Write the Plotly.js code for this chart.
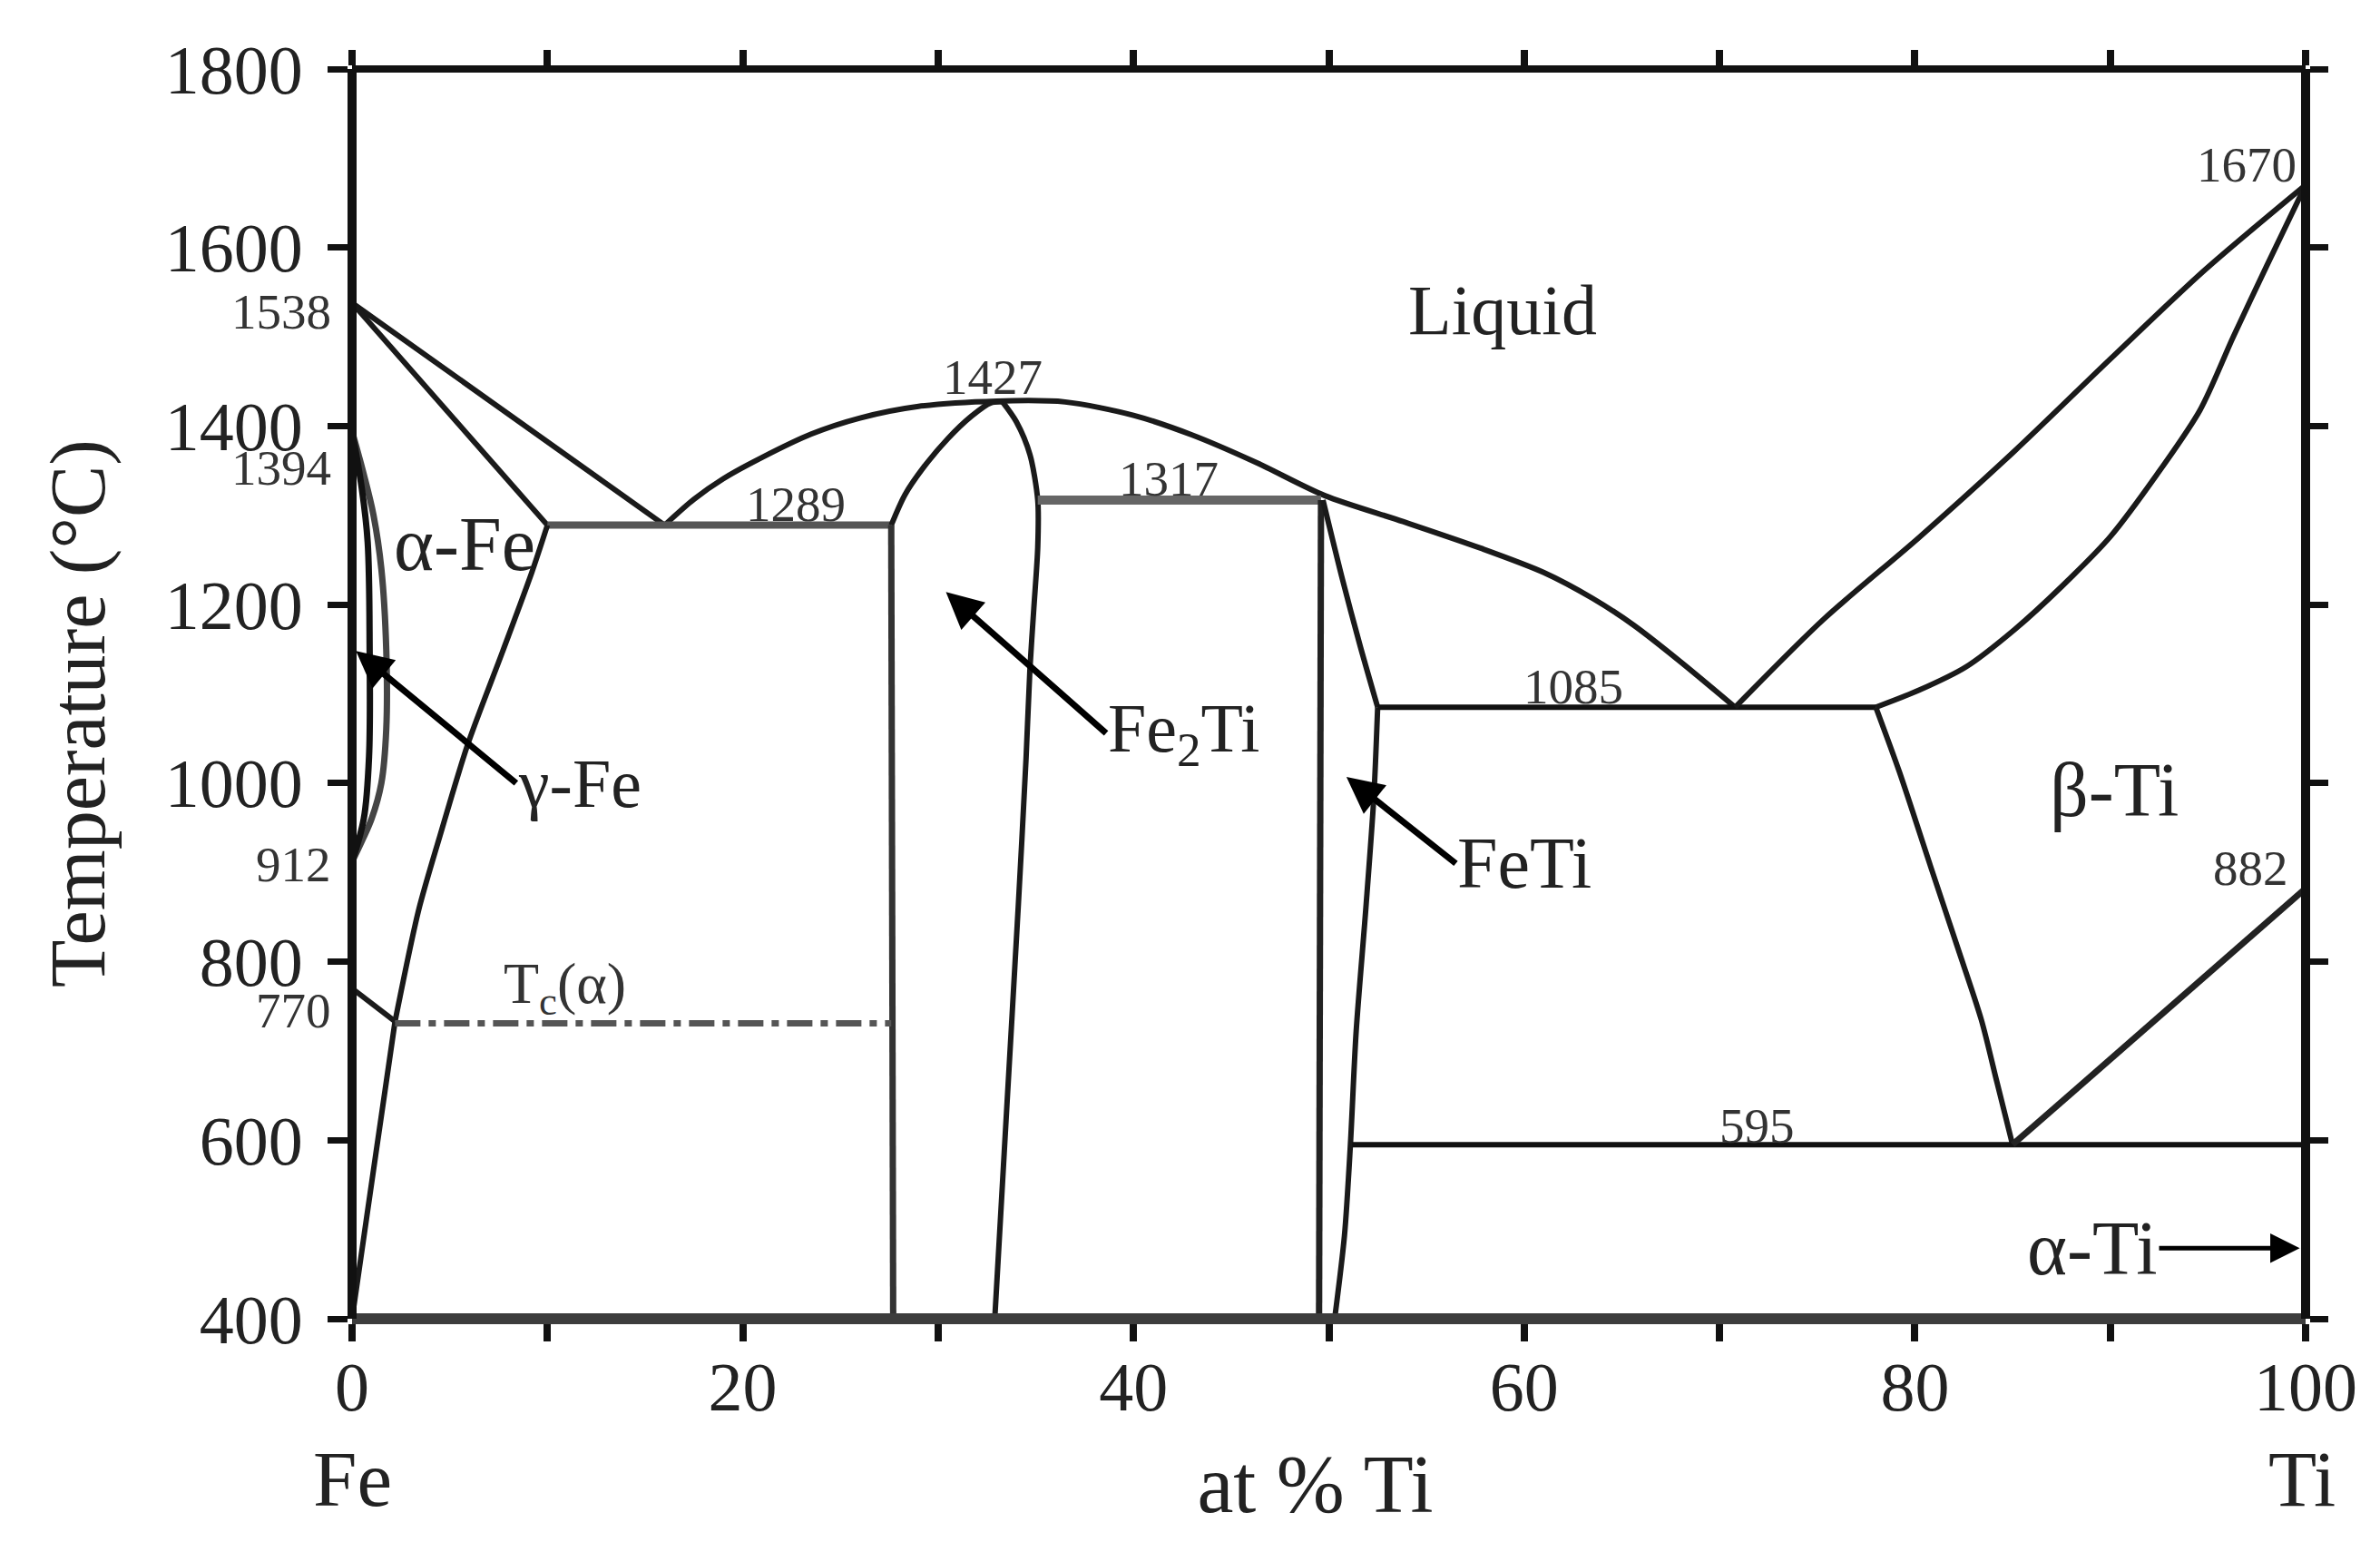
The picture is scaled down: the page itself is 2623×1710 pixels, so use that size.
<![CDATA[<!DOCTYPE html>
<html>
<head>
<meta charset="utf-8">
<script src="https://cdn.plot.ly/plotly-3.0.1.min.js"></script>
<style>html,body{margin:0;padding:0;background:#fff}</style>
</head>
<body>
<div id="chart" style="width:2623px;height:1710px"></div>
<script>
// ---- phase boundaries read from the picture: x = at % Ti, y = temperature in deg C ----
const liqFeX = [0, 16];               const liqFeY = [1538, 1289];
const solFeX = [0, 10];               const solFeY = [1538, 1289];
const domeX = [16, 17.5, 19, 21, 23.5, 26, 29, 33, 36.5, 40, 43, 46.3, 49.8, 53.8, 57.8, 61, 63.5, 65.6, 68, 70.8];
const domeY = [1289, 1318, 1341, 1365, 1391, 1409, 1422, 1428, 1427, 1412, 1390, 1359, 1322, 1293, 1263, 1236, 1207, 1177, 1136, 1085];
const eut1289X = [10, 27.6];          const eut1289Y = [1289, 1289];
const laves1X = [27.6, 28.3, 29.3, 30.5, 31.7, 32.7, 33.3];
const laves1Y = [1289, 1323, 1355, 1386, 1411, 1426, 1427];
const laves2X = [33.3, 34.0, 34.7, 35.1, 35.1, 34.9, 34.7, 34.5, 34.1, 33.5, 32.9];
const laves2Y = [1427, 1405, 1368, 1317, 1264, 1196, 1128, 1027, 861, 631, 400];
const lavesLeftX = [27.6, 27.7];      const lavesLeftY = [1289, 400];
const per1317X = [35.1, 49.6];        const per1317Y = [1317, 1317];
const feTiLeftX = [49.6, 49.5];       const feTiLeftY = [1317, 400];
const feTiRightUpX = [49.7, 50.7, 51.6, 52.5];
const feTiRightUpY = [1317, 1228, 1154, 1085];
const feTiRightLowX = [52.5, 52.3, 51.9, 51.4, 51.1, 50.8, 50.3];
const feTiRightLowY = [1085, 983, 861, 722, 593, 493, 400];
const eut1085X = [52.5, 78];          const eut1085Y = [1085, 1085];
const liqTiX = [70.8, 75.3, 80.2, 85.1, 90, 94.8, 100];
const liqTiY = [1085, 1183, 1275, 1372, 1475, 1574, 1670];
const solTiX = [78, 80.2, 82.6, 85.1, 87.5, 90, 92.4, 94.6, 96.3, 98, 100];
const solTiY = [1085, 1104, 1130, 1172, 1220, 1276, 1346, 1418, 1500, 1579, 1670];
const betaX = [78, 79.2, 80.8, 82.2, 83.4, 84.2, 85];
const betaY = [1085, 1013, 907, 815, 735, 665, 595];
const transusX = [85, 100];           const transusY = [595, 882];
const eut595X = [51.2, 100];          const eut595Y = [595, 595];
const loopOutX = [0, 0.55, 1.1, 1.5, 1.75, 1.75, 1.5, 1.0, 0.5, 0];
const loopOutY = [1394, 1350, 1300, 1240, 1150, 1060, 1000, 960, 935, 912];
const loopInX = [0, 0.5, 0.8, 0.9, 0.87, 0.6, 0];
const loopInY = [1394, 1330, 1270, 1150, 1030, 960, 912];
const solvusUpX = [10, 9.2, 7.7, 5.9, 4.5, 3.4, 2.2];
const solvusUpY = [1289, 1236, 1147, 1042, 941, 857, 733];
const solvusLowX = [2.2, 1.69, 1.1, 0.37, 0];
const solvusLowY = [733, 656, 567, 456, 400];
const curieX = [0, 2.2];              const curieY = [770, 733];
const tcX = [2.2, 27.6];              const tcY = [731, 731];

const xTickVals = [0, 20, 40, 60, 80, 100];
const xMinorVals = [10, 30, 50, 70, 90];
const yTickVals = [400, 600, 800, 1000, 1200, 1400, 1600, 1800];

const edgeLabels = ['1538', '1394', '912', '770'];
const edgeLabelY = [1528, 1353, 909, 745];
const smallLabels = ['1427', '1289', '1317', '1085', '1670', '882', '595', 'T<sub>c</sub>(α)'];
const smallLabelX = [32.8, 22.7, 41.8, 62.5, 97, 97.2, 71.9, 10.9];
const smallLabelY = [1455, 1312, 1341, 1108, 1693, 905, 616, 771];
const smallLabelSize = [55, 55, 55, 55, 55, 55, 55, 64];

const phaseLabels = ['Liquid', 'α-Fe', 'β-Ti'];
const phaseLabelX = [58.9, 5.75, 90.2];
const phaseLabelY = [1530, 1268, 992];
const phaseLabelSize = [78, 84, 84];

const endLabels = ['Fe', 'Ti'];
const endLabelX = [0, 99.8];

const arrowLabels = ['γ-Fe', 'Fe<sub>2</sub>Ti', 'FeTi', 'α-Ti'];
const arrowLabelAnchor = ['left', 'left', 'left', 'right'];
const arrowLabelSize = [76, 76, 80, 84];
const arrowFromX = [8.4, 38.6, 56.5, 92.5];
const arrowFromY = [1000, 1056, 910, 479];
const arrowToX = [0.2, 30.4, 50.9, 99.7];
const arrowToY = [1148, 1214, 1007, 479];
const arrowWidth = [7, 7, 7, 5];
const arrowSize = [1.15, 1.15, 1.15, 1.3];

const SERIF = '"Liberation Serif", "Times New Roman", serif';
const INK = '#1a1a1a';

function curve(x, y, extra) {
  return Object.assign({
    type: 'scatter', mode: 'lines', x: x, y: y, hoverinfo: 'skip', showlegend: false,
    line: { color: INK, width: 6 }
  }, extra || {});
}
const smooth = { color: INK, width: 6, shape: 'spline', smoothing: 0.8 };
const traces = [
  curve(liqFeX, liqFeY), curve(solFeX, solFeY), curve(domeX, domeY, { line: smooth }),
  curve(eut1289X, eut1289Y, { line: { color: '#555', width: 8 } }),
  curve(laves1X, laves1Y, { line: smooth }), curve(laves2X, laves2Y, { line: smooth }),
  curve(lavesLeftX, lavesLeftY, { line: { color: '#333', width: 7 } }),
  curve(per1317X, per1317Y, { line: { color: '#666', width: 10 } }),
  curve(feTiLeftX, feTiLeftY, { line: { color: '#222', width: 7 } }),
  curve(feTiRightUpX, feTiRightUpY, { line: smooth }), curve(feTiRightLowX, feTiRightLowY, { line: smooth }),
  curve(eut1085X, eut1085Y, { line: { color: '#111', width: 6 } }),
  curve(liqTiX, liqTiY, { line: smooth }), curve(solTiX, solTiY, { line: smooth }),
  curve(betaX, betaY, { line: smooth }), curve(eut595X, eut595Y, { line: { color: '#111', width: 6 } }),
  curve(loopOutX, loopOutY, { line: { color: '#444', width: 7, shape: 'spline', smoothing: 1 } }),
  curve(loopInX, loopInY, { line: { color: '#111', width: 7, shape: 'spline', smoothing: 1 } }),
  curve(solvusUpX, solvusUpY, { line: smooth }), curve(solvusLowX, solvusLowY, { line: smooth }),
  curve(curieX, curieY),
  curve(tcX, tcY, { line: { color: '#555', width: 7, dash: '28px,9px,8px,9px' } }),
  // drawn on the mirrored axes so that the top and right frame are kept
  curve(transusX, transusY, { xaxis: 'x2', yaxis: 'y2', line: { color: '#222', width: 7 } })
];

const annotations = [];
edgeLabels.forEach((t, i) => annotations.push({
  text: t, x: -0.00975, y: edgeLabelY[i], xref: 'paper', yref: 'y', showarrow: false,
  xanchor: 'right', yanchor: 'middle', font: { family: SERIF, size: 55, color: '#333' }
}));
smallLabels.forEach((t, i) => annotations.push({
  text: t, x: smallLabelX[i], y: smallLabelY[i], xref: 'x', yref: 'y', showarrow: false,
  xanchor: 'center', yanchor: 'middle', font: { family: SERIF, size: smallLabelSize[i], color: '#333' }
}));
phaseLabels.forEach((t, i) => annotations.push({
  text: t, x: phaseLabelX[i], y: phaseLabelY[i], xref: 'x', yref: 'y', showarrow: false,
  xanchor: 'center', yanchor: 'middle', font: { family: SERIF, size: phaseLabelSize[i], color: '#222' }
}));
endLabels.forEach((t, i) => annotations.push({
  text: t, x: endLabelX[i], y: -0.128, xref: 'x', yref: 'paper', showarrow: false,
  xanchor: 'center', yanchor: 'middle', font: { family: SERIF, size: 87, color: '#222' }
}));
arrowLabels.forEach((t, i) => annotations.push({
  text: t, x: arrowToX[i], y: arrowToY[i], ax: arrowFromX[i], ay: arrowFromY[i],
  xref: 'x', yref: 'y', axref: 'x', ayref: 'y', showarrow: true,
  xanchor: arrowLabelAnchor[i], yanchor: 'middle', font: { family: SERIF, size: arrowLabelSize[i], color: '#222' },
  arrowhead: 2, arrowsize: arrowSize[i], arrowwidth: arrowWidth[i], arrowcolor: '#000'
}));

const tickFont = { family: SERIF, size: 76, color: '#222' };
const layout = {
  width: 2623, height: 1710, showlegend: false,
  paper_bgcolor: '#fff', plot_bgcolor: '#fff',
  margin: { l: 388, r: 82, t: 76, b: 257, pad: 0 },
  font: { family: SERIF, color: '#222' },
  xaxis: {
    range: [0, 100], showgrid: false, zeroline: false, fixedrange: true,
    anchor: 'free', position: 0, linecolor: '#3d3d3d', linewidth: 12, showline: true,
    ticks: 'outside', ticklen: 19, tickwidth: 8, tickcolor: '#111',
    tickmode: 'array', tickvals: xTickVals, ticktext: xTickVals.map(String), tickfont: tickFont, tickangle: 0,
    ticklabelstandoff: -15,
    minor: { tickmode: 'array', tickvals: xMinorVals, ticks: 'outside', ticklen: 19, tickwidth: 8, tickcolor: '#111', showgrid: false },
    title: { text: 'at % Ti\u2004\u200B', font: { family: SERIF, size: 90, color: '#222' }, standoff: 33 }
  },
  yaxis: {
    range: [400, 1800], showgrid: false, zeroline: false, fixedrange: true,
    anchor: 'free', position: 0, linecolor: '#111', linewidth: 10, showline: true,
    ticks: 'outside', ticklen: 22, tickwidth: 7, tickcolor: '#111',
    tickmode: 'array', tickvals: yTickVals, ticktext: yTickVals.map(String), tickfont: tickFont,
    ticklabelstandoff: 12,
    title: { text: 'Temperature (°C)\u2002\u200B', font: { family: SERIF, size: 86, color: '#222' }, standoff: 37 }
  },
  xaxis2: {
    range: [0, 100], overlaying: 'x', side: 'top', anchor: 'free', position: 1,
    showgrid: false, zeroline: false, fixedrange: true, showline: true, linecolor: '#111', linewidth: 8,
    ticks: 'outside', ticklen: 17, tickwidth: 8, tickcolor: '#111',
    tickmode: 'array', tickvals: xTickVals, showticklabels: false,
    minor: { tickmode: 'array', tickvals: xMinorVals, ticks: 'outside', ticklen: 17, tickwidth: 8, tickcolor: '#111', showgrid: false }
  },
  yaxis2: {
    range: [400, 1800], overlaying: 'y', side: 'right', anchor: 'free', position: 1,
    showgrid: false, zeroline: false, fixedrange: true, showline: true, linecolor: '#111', linewidth: 10,
    ticks: 'outside', ticklen: 20, tickwidth: 7, tickcolor: '#111',
    tickmode: 'array', tickvals: yTickVals, showticklabels: false
  },
  annotations: annotations
};
Plotly.newPlot('chart', traces, layout, { displayModeBar: false, staticPlot: true });
</script>
</body>
</html>
]]>
